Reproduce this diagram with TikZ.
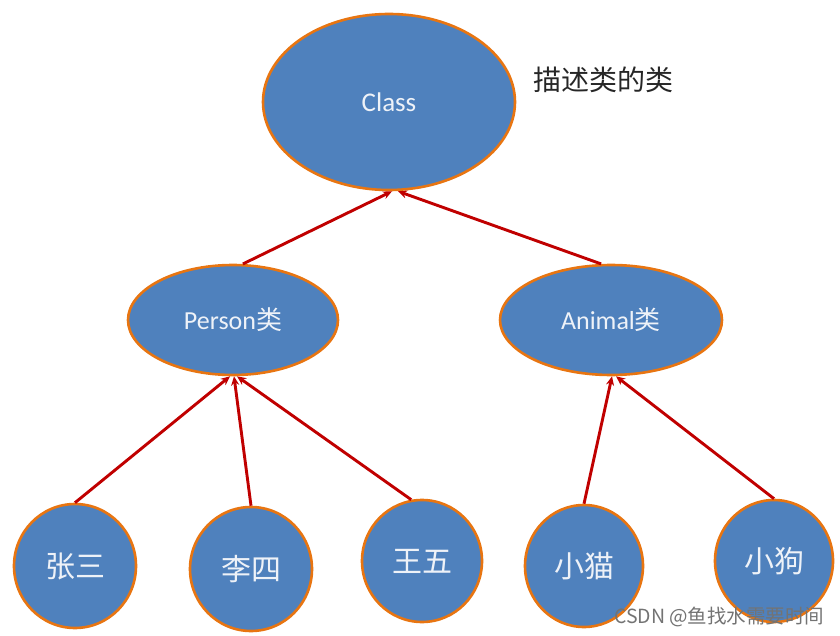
\documentclass[tikz,border=0pt]{standalone}
\usepackage{fontspec}
\setmainfont{Carlito}
\newfontfamily\cjk{Noto Sans CJK SC}
\usetikzlibrary{shapes.geometric,arrows.meta}
\definecolor{nodefill}{HTML}{4F81BD}
\definecolor{nodeedge}{HTML}{E87511}
\definecolor{arrowred}{HTML}{C00000}
\definecolor{nodetext}{HTML}{EEF2F8}
\tikzset{
  blob/.style={ellipse, draw=nodeedge, fill=nodefill, line width=2.6pt, inner sep=0pt, text=nodetext},
  link/.style={draw=arrowred, line width=2.9pt, -{Stealth[length=9pt,width=8pt]}, shorten >=0pt},
}
\begin{document}
\begin{tikzpicture}[x=1pt,y=-1pt]
\useasboundingbox (0,0) rectangle (840,636);
\node[blob, minimum width=252pt, minimum height=176pt, font=\fontsize{27}{30}\selectfont] (class) at (389,102) {Class};
\node[blob, minimum width=210pt, minimum height=110pt, font=\fontsize{26}{30}\selectfont] (person) at (233,320) {Person\cjk 类};
\node[blob, minimum width=222pt, minimum height=110pt, font=\fontsize{26}{30}\selectfont] (animal) at (611,320) {Animal\cjk 类};
\node[blob, minimum width=122pt, minimum height=124pt, font=\cjk\fontsize{30}{32}\selectfont] (zs) at (75,566) {张三};
\node[blob, minimum width=122pt, minimum height=124pt, font=\cjk\fontsize{30}{32}\selectfont] (ls) at (251,569) {李四};
\node[blob, minimum width=120pt, minimum height=122pt, font=\cjk\fontsize{30}{32}\selectfont] (ww) at (422,561) {王五};
\node[blob, minimum width=118pt, minimum height=122pt, font=\cjk\fontsize{30}{32}\selectfont] (xm) at (584,566) {小猫};
\node[blob, minimum width=118pt, minimum height=122pt, font=\cjk\fontsize{30}{32}\selectfont] (xg) at (774,561) {小狗};
\node[font=\cjk\fontsize{28}{32}\selectfont, text=black!85] (desc) at (603,80) {描述类的类};
\draw[link] (person.80) -- ([xshift=3pt]class.south);
\draw[link] (animal.100) -- ([xshift=9pt]class.south);
\draw[link] (zs.north) -- ([xshift=-3pt]person.south);
\draw[link] (ls.north) -- ([xshift=1pt]person.south);
\draw[link] (ww.100) -- ([xshift=4pt]person.south);
\draw[link] (xm.north) -- ([xshift=1pt]animal.south);
\draw[link] (xg.north) -- ([xshift=5pt]animal.south);
\node[font=\cjk\fontsize{19.5}{22}\selectfont, text=black!55, anchor=east] (wm) at (828,617) {CSDN @鱼找水需要时间};
\end{tikzpicture}
\end{document}
